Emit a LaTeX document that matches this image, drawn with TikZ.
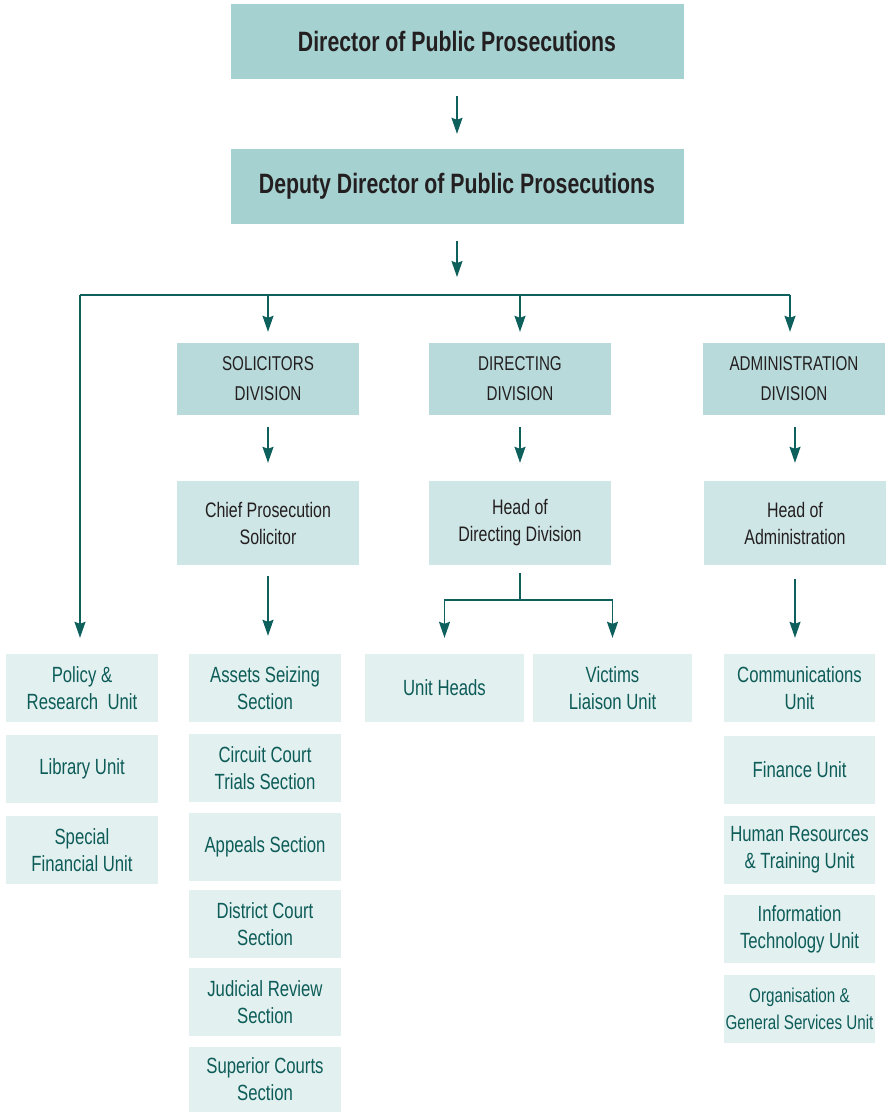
\documentclass[tikz,border=0pt]{standalone}
\usepackage{fontspec}
\setmainfont{Liberation Sans}[FakeStretch=0.76]
\usepackage{tikz}
\usetikzlibrary{arrows.meta, positioning}

\definecolor{topfill}{HTML}{A6D1D1}
\definecolor{divfill}{HTML}{B8DADA}
\definecolor{headfill}{HTML}{CFE6E6}
\definecolor{leaffill}{HTML}{E2F0F0}
\definecolor{inkdark}{HTML}{231F20}
\definecolor{inkteal}{HTML}{0D5C58}
\definecolor{linkc}{HTML}{0D605C}

\begin{document}
\begin{tikzpicture}[x=1pt,y=-1pt,
            topbox/.style={fill=topfill,minimum width=453pt,minimum height=75pt,inner sep=0pt,
                text=inkdark,font=\bfseries\fontsize{28}{34}\selectfont},
            divbox/.style={fill=divfill,minimum width=182pt,minimum height=72pt,inner sep=0pt,align=center,
                text=inkdark,font=\fontsize{20}{30}\selectfont},
            headbox/.style={fill=headfill,minimum width=182pt,minimum height=84pt,inner sep=0pt,align=center,
                text=inkdark,font=\fontsize{21}{27}\selectfont},
            leafbox/.style={fill=leaffill,minimum width=152pt,minimum height=68pt,inner sep=0pt,align=center,
                text=inkteal,font=\fontsize{22}{27}\selectfont},
            stem/.style={draw=linkc,line width=1.5pt},
            link/.style={stem,-{Stealth[length=16pt,width=11pt,inset=2pt]}}]
            \useasboundingbox (0,0) rectangle (887,1112);

            % Top of the office
            \node[topbox] (dpp) at (457,41.5) {Director of Public Prosecutions};
            \node[topbox] (ddpp) at (457,186.5) {Deputy Director of Public Prosecutions};
            \draw[link,shorten <=17pt,shorten >=15pt] (dpp) -- (ddpp);

            % Bus to the divisions
            \coordinate (bus) at (457,295);
            \coordinate (busL) at (80,295);
            \coordinate (busR) at (790,295);
            \draw[link,shorten <=17pt,shorten >=18pt] (ddpp) -- (bus);
            \draw[stem] (busL) -- (busR);

            % Divisions
            \node[divbox] (sol) at (268,379) {SOLICITORS\\DIVISION};
            \node[divbox] (dirdiv) at (520,379) {DIRECTING\\DIVISION};
            \node[divbox] (adm) at (794,379) {ADMINISTRATION\\DIVISION};
            \draw[link,shorten >=11pt] (sol.north |- bus) -- (sol);
            \draw[link,shorten >=11pt] (dirdiv.north |- bus) -- (dirdiv);
            \draw[link,shorten >=11pt] (busR) -- (busR |- adm.north);

            % Heads
            \node[headbox] (chief) at (268,523) {Chief Prosecution\\Solicitor};
            \node[headbox] (hdir) at (520,523) {Head of\\Directing Division};
            \node[headbox] (hadm) at (795,523) {Head of\\Administration};
            \draw[link,shorten <=12pt,shorten >=18pt] (sol) -- (chief);
            \draw[link,shorten <=12pt,shorten >=18pt] (dirdiv) -- (hdir);
            \draw[link,shorten <=12pt,shorten >=18pt] (adm.south -| hadm) -- (hadm);

            % Units reporting to the deputy
            \node[leafbox] (policy) at (82,688) {Policy \&\\Research\ \ Unit};
            \node[leafbox] (library) at (82,769) {Library Unit};
            \node[leafbox] (special) at (82,850) {Special\\Financial Unit};
            \draw[link,shorten >=16pt] (busL) -- (busL |- policy.north);

            % Solicitors sections
            \node[leafbox] (assets) at (265,688) {Assets Seizing\\Section};
            \node[leafbox] (circuit) at (265,768) {Circuit Court\\Trials Section};
            \node[leafbox] (appeals) at (265,847) {Appeals Section};
            \node[leafbox] (district) at (265,924) {District Court\\Section};
            \node[leafbox] (judicial) at (265,1002) {Judicial Review\\Section};
            \node[leafbox,minimum height=65pt] (superior) at (265,1079.5) {Superior Courts\\Section};
            \draw[link,shorten <=11pt,shorten >=18pt] (chief.south) -- (chief.south |- assets.north);

            % Directing units
            \node[leafbox,minimum width=159pt] (unitheads) at (444.5,688) {Unit Heads};
            \node[leafbox,minimum width=159pt] (victims) at (612.5,688) {Victims\\Liaison Unit};
            \coordinate (split) at (520,600);
            \draw[stem,shorten <=8pt] (hdir.south) -- (split);
            \draw[link,shorten >=16pt] (split) -| (unitheads.north);
            \draw[link,shorten >=16pt] (split) -| (victims.north);

            % Administration units
            \node[leafbox,minimum width=151pt] (comms) at (799.5,688) {Communications\\Unit};
            \node[leafbox,minimum width=151pt] (finance) at (799.5,770) {Finance Unit};
            \node[leafbox,minimum width=151pt] (hr) at (799.5,850) {Human Resources\\\& Training Unit};
            \node[leafbox,minimum width=151pt] (itunit) at (799.5,929) {Information\\Technology Unit};
            \node[leafbox,minimum width=151pt,font=\fontsize{20}{27}\selectfont] (orgserv) at (799.5,1009)
                {Organisation \&\\General Services Unit};
            \draw[link,shorten <=14pt,shorten >=16pt] (hadm.south) -- (hadm.south |- comms.north);
\end{tikzpicture}
\end{document}
